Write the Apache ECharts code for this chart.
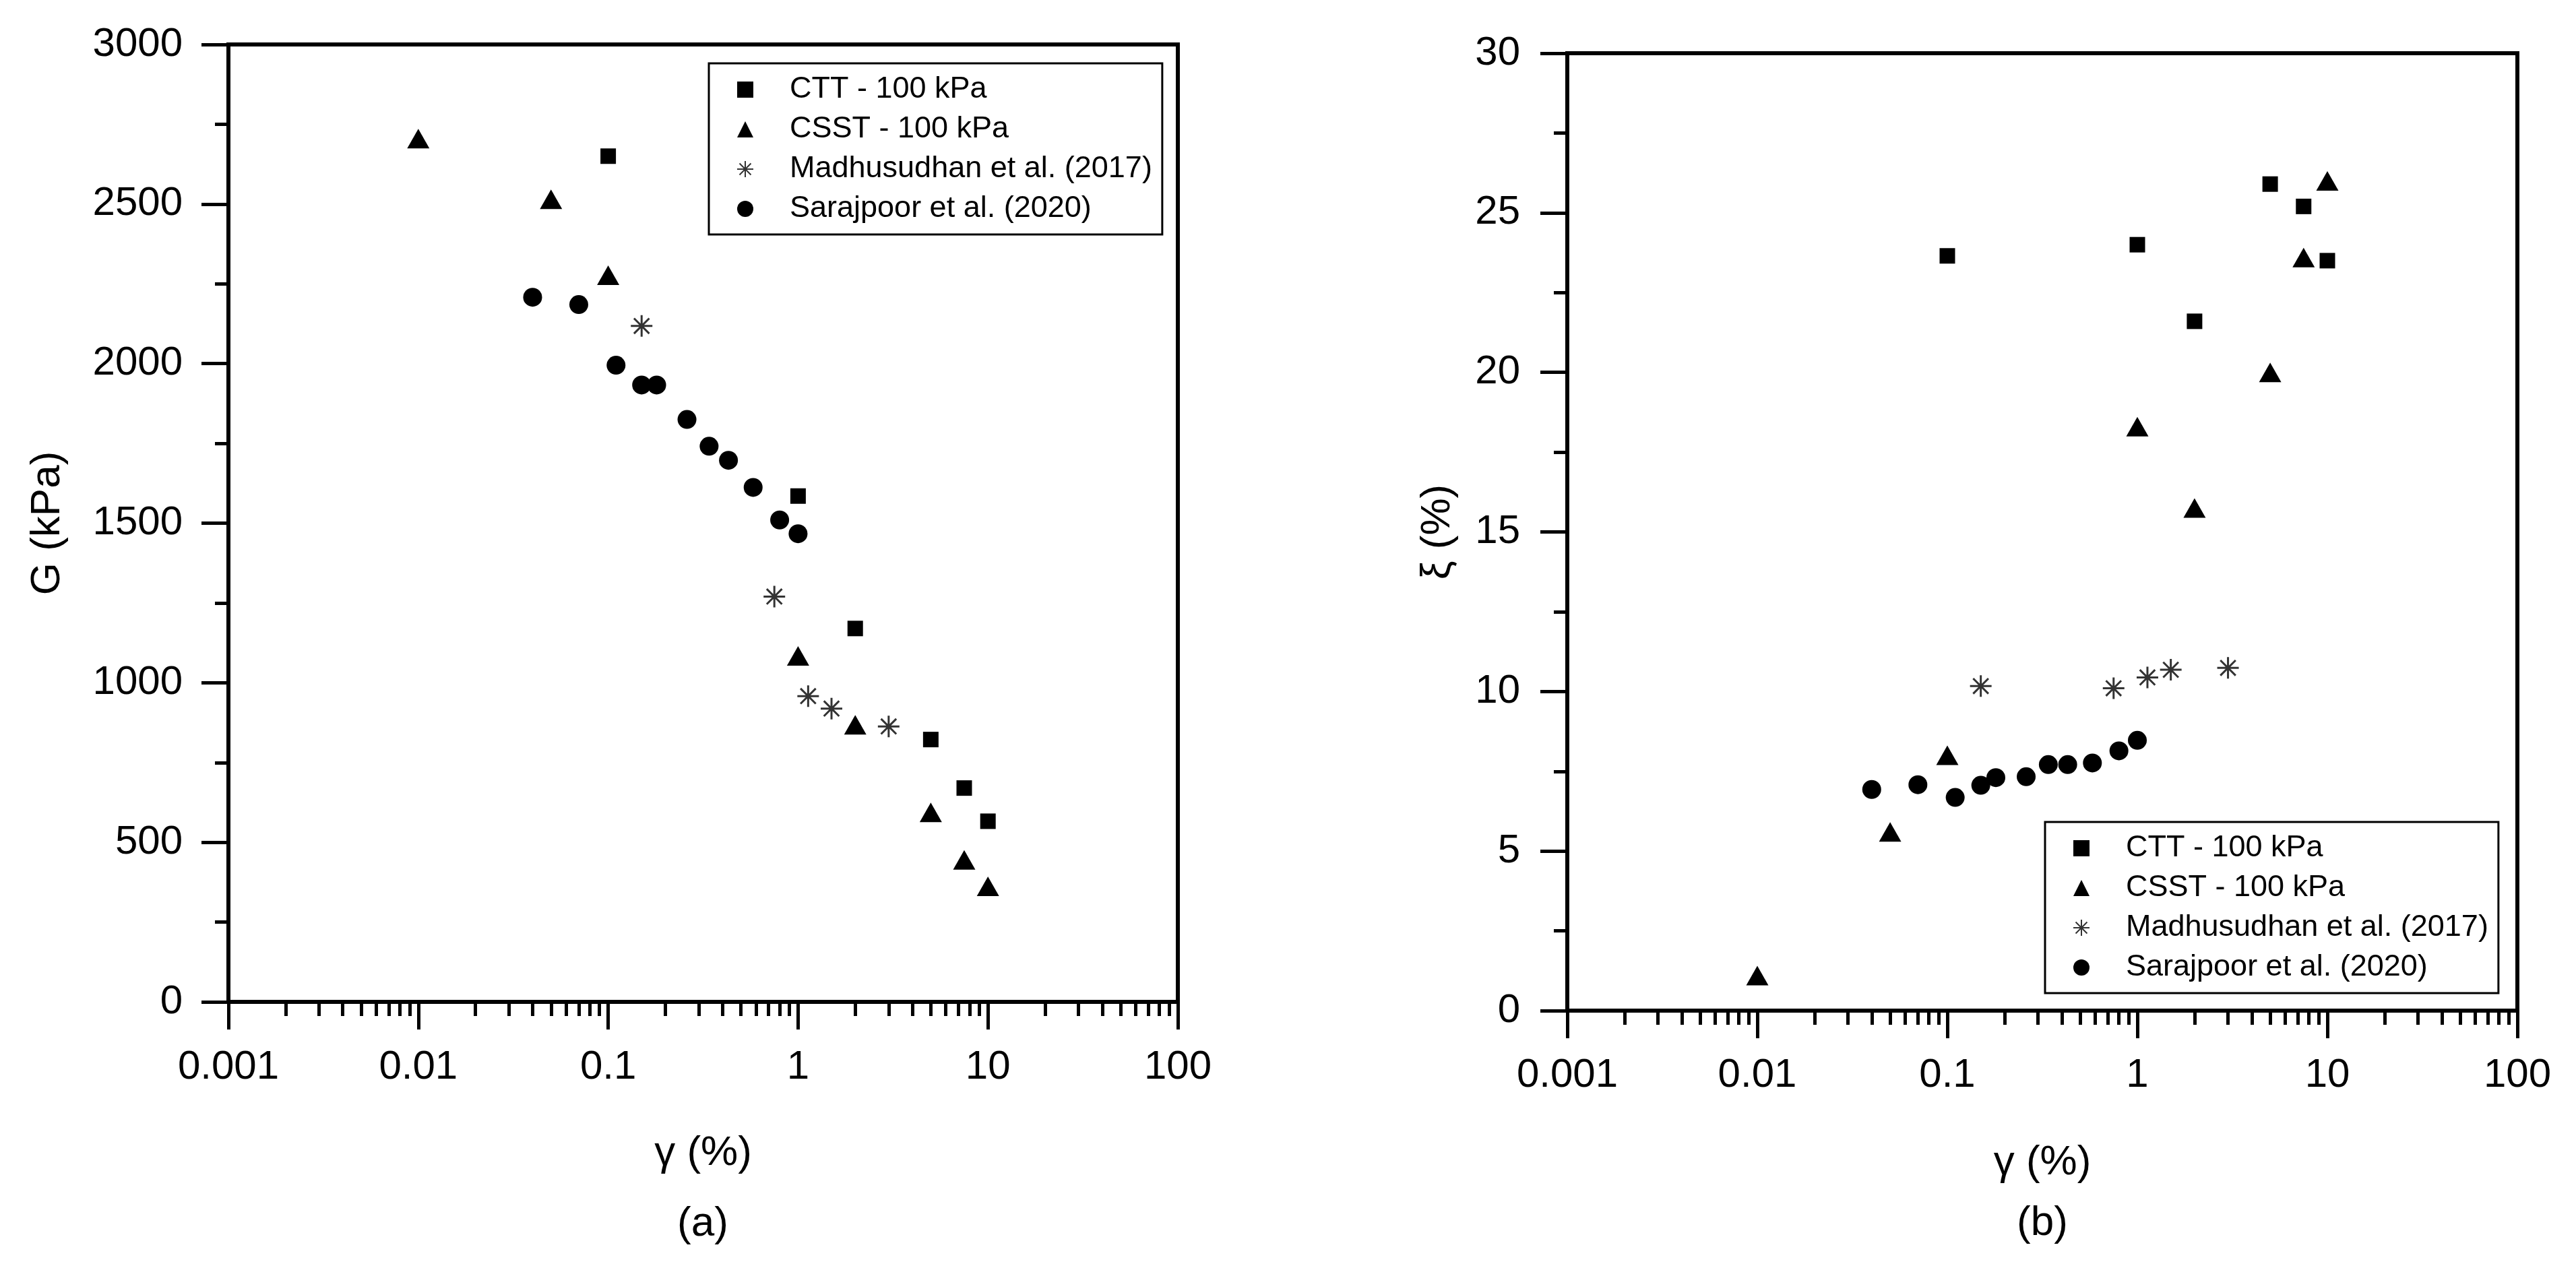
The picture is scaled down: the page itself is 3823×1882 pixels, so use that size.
<!DOCTYPE html>
<html>
<head>
<meta charset="utf-8">
<style>
  html, body { margin: 0; padding: 0; background: #fff; }
  #main { width: 3823px; height: 1882px; }
</style>
</head>
<body>
<div id="main"></div>
<script src="https://cdn.jsdelivr.net/npm/echarts@6/dist/echarts.min.js"></script>
<script>
// --- data ---
var names = ['CTT - 100 kPa', 'CSST - 100 kPa', 'Madhusudhan et al. (2017)', 'Sarajpoor et al. (2020)'];

// CTT - 100 kPa
var cttStrain = [0.1, 1, 2, 5, 7.5, 10];
var cttG      = [2650, 1585, 1170, 822, 670, 566];
var cttDamp   = [23.65, 24.0, 21.6, 25.9, 25.2, 23.5];

// CSST - 100 kPa
var csstStrain = [0.01, 0.05, 0.1, 1, 2, 5, 7.5, 10];
var csstG      = [2705, 2515, 2277, 1084, 868, 594, 445, 362];
var csstDamp   = [1.1, 5.6, 8.0, 18.3, 15.75, 20.0, 23.6, 26.0];

// Madhusudhan et al. (2017)
var madStrain = [0.15, 0.75, 1.13, 1.5, 3];
var madG      = [2118, 1270, 958, 919, 863];
var madDamp   = [10.17, 10.1, 10.44, 10.68, 10.74];

// Sarajpoor et al. (2020)
var sarStrain = [0.04, 0.07, 0.11, 0.15, 0.18, 0.26, 0.34, 0.43, 0.58, 0.8, 1];
var sarG      = [2208, 2185, 1995, 1933, 1933, 1825, 1741, 1697, 1612, 1510, 1467];
var sarDamp   = [6.93, 7.08, 6.68, 7.06, 7.3, 7.33, 7.71, 7.71, 7.76, 8.14, 8.47];

var font = '"Liberation Sans", Arial, Helvetica, sans-serif';

// minor log ticks (2..9 in each decade), put on an overlay value axis in log10 units
var minorTickPos = [];
for (var d = -3; d < 2; d++) {
    for (var m = 2; m <= 9; m++) {
        minorTickPos.push(d + Math.log10(m));
    }
}

function pairs(xs, ys) {
    return xs.map(function (x, i) { return [x, ys[i]]; });
}

var asterisk = 'path://M10,0L10,20M0,10L20,10M2.93,2.93L17.07,17.07M2.93,17.07L17.07,2.93';

function logAxis(g, gap, margin) {
    return {
        type: 'log', logBase: 10, gridIndex: g, min: 0.001, max: 100, position: 'bottom',
        name: 'γ (%)', nameLocation: 'middle', nameGap: gap,
        nameTextStyle: { fontSize: 62, fontFamily: font, color: '#000', lineHeight: 62 },
        axisLine: { show: true, onZero: false, lineStyle: { color: '#000', width: 6 } },
        axisTick: { show: true, length: 41, lineStyle: { color: '#000', width: 5 } },
        minorTick: { show: false },
        axisLabel: {
            fontSize: 60, fontFamily: font, color: '#000', margin: margin, lineHeight: 60,
            formatter: function (v) { return String(+v.toPrecision(6)); }
        },
        splitLine: { show: false }
    };
}

function minorAxis(g) {
    return {
        type: 'value', gridIndex: g, min: -3, max: 2, position: 'bottom',
        axisLine: { show: false, onZero: false },
        axisLabel: { show: false },
        splitLine: { show: false },
        axisTick: { show: true, length: 21, customValues: minorTickPos, lineStyle: { color: '#000', width: 5 } }
    };
}

function valAxis(g, max, interval, name, gap, margin) {
    return {
        type: 'value', gridIndex: g, min: 0, max: max, interval: interval, position: 'left',
        name: name, nameLocation: 'middle', nameGap: gap,
        nameTextStyle: { fontSize: 62, fontFamily: font, color: '#000', lineHeight: 62 },
        axisLine: { show: true, onZero: false, lineStyle: { color: '#000', width: 6 } },
        axisTick: { show: true, length: 40, lineStyle: { color: '#000', width: 5 } },
        minorTick: { show: true, splitNumber: 2, length: 20, lineStyle: { color: '#000', width: 5 } },
        axisLabel: {
            fontSize: 60, fontFamily: font, color: '#000', margin: margin,
            formatter: function (v) { return String(v); }
        },
        splitLine: { show: false }
    };
}

function legendBox(left, top) {
    return {
        orient: 'vertical', left: left, top: top,
        data: names,
        itemWidth: 24, itemHeight: 24, itemGap: 9,
        padding: [14, 15, 13, 41],
        borderColor: '#000', borderWidth: 3, borderRadius: 0,
        selectedMode: false,
        textStyle: { fontSize: 45, fontFamily: font, color: '#000', lineHeight: 50, padding: [0, 0, 0, 49] }
    };
}

function panelSeries(xi, yi, G) {
    return [
        {
            name: names[0], type: 'scatter', xAxisIndex: xi, yAxisIndex: yi,
            symbol: 'rect', symbolSize: 23, itemStyle: { color: '#000', opacity: 1 },
            data: pairs(cttStrain, G ? cttG : cttDamp)
        },
        {
            name: names[1], type: 'scatter', xAxisIndex: xi, yAxisIndex: yi,
            symbol: 'triangle', symbolSize: [33, 29], itemStyle: { color: '#000', opacity: 1 },
            data: pairs(csstStrain, G ? csstG : csstDamp)
        },
        {
            name: names[2], type: 'scatter', xAxisIndex: xi, yAxisIndex: yi,
            symbol: asterisk, symbolSize: 32,
            itemStyle: { color: 'transparent', borderColor: '#333', borderWidth: 3, opacity: 1 },
            data: pairs(madStrain, G ? madG : madDamp)
        },
        {
            name: names[3], type: 'scatter', xAxisIndex: xi, yAxisIndex: yi,
            symbol: 'circle', symbolSize: 28, itemStyle: { color: '#000', opacity: 1 },
            data: pairs(sarStrain, G ? sarG : sarDamp)
        }
    ];
}

var myChart = echarts.init(document.getElementById('main'));

var option = {
    backgroundColor: '#fff',
    animation: false,
    grid: [
        { left: 339, top: 66, width: 1409, height: 1421, show: true, borderColor: '#000', borderWidth: 6 },
        { left: 2326, top: 79, width: 1410, height: 1421, show: true, borderColor: '#000', borderWidth: 6 }
    ],
    xAxis: [logAxis(0, 194, 67), minorAxis(0), logAxis(1, 195, 66), minorAxis(1)],
    yAxis: [
        valAxis(0, 3000, 500, 'G (kPa)', 237, 68),
        valAxis(1, 30, 5, 'ξ (%)', 161, 70)
    ],
    legend: [legendBox(1052, 94), legendBox(3035, 1220)],
    graphic: [
        { type: 'text', x: 1043, y: 1817, style: { text: '(a)', fontSize: 62, fontFamily: font, fill: '#000', align: 'center', verticalAlign: 'middle' } },
        { type: 'text', x: 3031, y: 1816, style: { text: '(b)', fontSize: 62, fontFamily: font, fill: '#000', align: 'center', verticalAlign: 'middle' } }
    ],
    series: panelSeries(0, 0, true).concat(panelSeries(2, 1, false))
};

myChart.setOption(option);
</script>
</body>
</html>
